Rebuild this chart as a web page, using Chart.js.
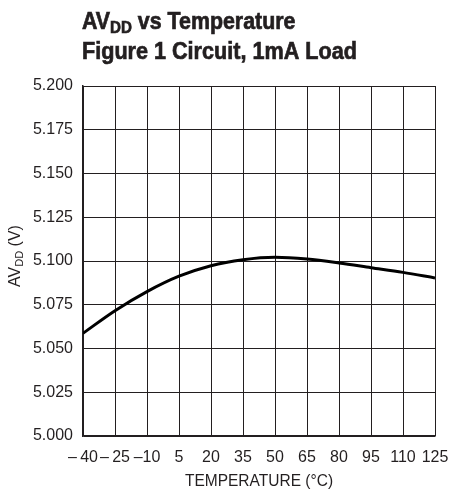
<!DOCTYPE html>
<html>
<head>
<meta charset="utf-8">
<script src="https://cdn.jsdelivr.net/npm/chart.js@4.4.1/dist/chart.umd.min.js"></script>
<style>
  html, body { margin: 0; padding: 0; background: #fff; }
  #wrap { width: 468px; height: 497px; }
</style>
</head>
<body>
<div id="wrap"><canvas id="chart" width="468" height="497"></canvas></div>
<script>
// data
const temps = [-40, -25, -10, 5, 20, 35, 50, 65, 80, 95, 110, 125];
const avdd = [5.0587, 5.0716, 5.0825, 5.0913, 5.0973, 5.1007, 5.1021, 5.1011, 5.0989, 5.0962, 5.0935, 5.0903];
const xTickLabels = ['–\u200940', '–\u200925', '–10', '5', '20', '35', '50', '65', '80', '95', '110', '125'];
const yTickLabels = ['5.000', '5.025', '5.050', '5.075', '5.100', '5.125', '5.150', '5.175', '5.200'];

const FONT = '"Liberation Sans", Arial, sans-serif';
const INK = '#231f20';

// draws text pieces one after another (subscripts get a dy), squeezed by sx
function drawParts(ctx, parts, x, y, align, sx, heavy) {
    sx = sx || 1;
    let total = 0;
    parts.forEach(p => { ctx.font = p.font; total += ctx.measureText(p.text).width; });
    ctx.save();
    ctx.translate(x, y);
    ctx.scale(sx, 1);
    let cx = align === 'center' ? -total / 2 : 0;
    ctx.textAlign = 'left';
    ctx.textBaseline = 'alphabetic';
    ctx.strokeStyle = ctx.fillStyle;
    ctx.lineWidth = 0.7;
    parts.forEach(p => {
        ctx.font = p.font;
        ctx.fillText(p.text, cx, p.dy || 0);
        if (heavy) ctx.strokeText(p.text, cx, p.dy || 0);
        cx += ctx.measureText(p.text).width;
    });
    ctx.restore();
}

const titlesPlugin = {
    id: 'titles',
    afterDraw(chart) {
        const ctx = chart.ctx;
        ctx.save();
        ctx.fillStyle = INK;
        const big = 'bold 24px ' + FONT;
        const sub = 'bold 17px ' + FONT;
        drawParts(ctx, [
            { text: 'AV', font: big },
            { text: 'DD', font: sub, dy: 4 },
            { text: ' vs Temperature', font: big }
        ], 82, 29, 'left', 0.89, true);
        drawParts(ctx, [{ text: 'Figure 1 Circuit, 1mA Load', font: big }], 82, 59, 'left', 0.9, true);

        // x axis title
        drawParts(ctx, [{ text: 'TEMPERATURE (°C)', font: '16px ' + FONT }], 259, 486, 'center', 0.97);

        // y axis title with subscript
        ctx.translate(20, 256);
        ctx.rotate(-Math.PI / 2);
        drawParts(ctx, [
            { text: 'AV', font: '16px ' + FONT },
            { text: 'DD', font: '11px ' + FONT, dy: 3 },
            { text: ' (V)', font: '16px ' + FONT }
        ], 0, 0, 'center');
        ctx.restore();
    }
};

new Chart(document.getElementById('chart'), {
    type: 'line',
    data: {
        datasets: [{
            data: temps.map((t, i) => ({ x: t, y: avdd[i] })),
            borderColor: '#000',
            borderWidth: 3,
            pointRadius: 0,
            cubicInterpolationMode: 'monotone',
            fill: false
        }]
    },
    options: {
        responsive: false,
        animation: false,
        layout: { padding: { top: 86, right: 33, left: 0, bottom: 0 } },
        plugins: {
            legend: { display: false },
            tooltip: { enabled: false }
        },
        scales: {
            x: {
                type: 'linear',
                min: -40,
                max: 125,
                afterFit: s => { s.height = 61; },
                afterBuildTicks: s => { s.ticks = temps.map(v => ({ value: v })); },
                grid: { color: INK, lineWidth: 1, drawTicks: false },
                border: { color: INK, width: 1.5 },
                ticks: {
                    padding: 12,
                    color: INK,
                    maxRotation: 0,
                    autoSkip: false,
                    font: { family: FONT, size: 16 },
                    callback: (v, i) => xTickLabels[i]
                }
            },
            y: {
                min: 5.0,
                max: 5.2,
                afterFit: s => { s.width = 83; },
                afterBuildTicks: s => { s.ticks = yTickLabels.map(v => ({ value: parseFloat(v) })); },
                grid: { color: INK, lineWidth: 1, drawTicks: false },
                border: { color: INK, width: 1.5 },
                ticks: {
                    padding: 10,
                    color: INK,
                    autoSkip: false,
                    font: { family: FONT, size: 16 },
                    callback: (v, i) => yTickLabels[i]
                }
            }
        }
    },
    plugins: [titlesPlugin]
});
</script>
</body>
</html>
